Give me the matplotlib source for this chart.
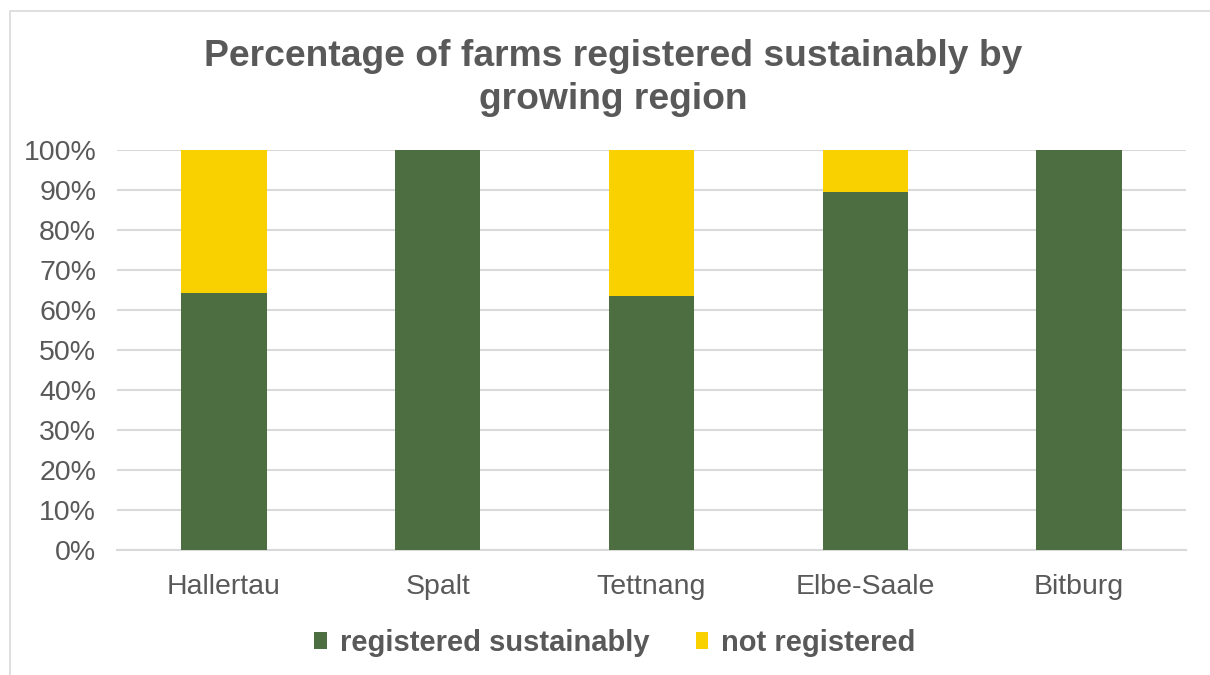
import matplotlib.pyplot as plt
from matplotlib.patches import Rectangle
from matplotlib.ticker import PercentFormatter

plt.rcParams['font.family'] = ['Liberation Sans', 'DejaVu Sans']

regions = ['Hallertau', 'Spalt', 'Tettnang', 'Elbe-Saale', 'Bitburg']
registered = [64.25, 100, 63.5, 89.6, 100]
not_registered = [100 - v for v in registered]

green = '#4D6E41'
yellow = '#F9D000'
grey = '#595959'

fig = plt.figure(figsize=(12.1, 6.75), dpi=100)
fig.patches.append(Rectangle((10 / 1210, -0.1), 1.2, 1 - 11 / 675 + 0.1,
                             transform=fig.transFigure, fill=False,
                             edgecolor='#D9D9D9', lw=1.2))

ax = fig.add_axes([117 / 1210, 1 - 550 / 675, (1186 - 117) / 1210, 400 / 675])
x = range(len(regions))
ax.bar(x, registered, width=0.4, color=green, label='registered sustainably', zorder=3)
ax.bar(x, not_registered, width=0.4, bottom=registered, color=yellow,
       label='not registered', zorder=3)

ax.set_xlim(-0.5, len(regions) - 0.5)
ax.set_ylim(0, 100)
ax.set_yticks(range(0, 101, 10))
ax.yaxis.set_major_formatter(PercentFormatter(decimals=0))
ax.set_xticks(list(x))
ax.set_xticklabels(regions)
ax.grid(axis='y', color='#D9D9D9', lw=1.5, zorder=0)
ax.tick_params(axis='both', length=0, labelsize=20.5, colors=grey)
ax.tick_params(axis='x', pad=17)
ax.tick_params(axis='y', pad=15)
for s in ['top', 'right', 'left']:
    ax.spines[s].set_visible(False)
ax.spines['bottom'].set_color('#D9D9D9')
ax.spines['bottom'].set_linewidth(1.5)

fig.text(613 / 1210, 1 - 78 / 675,
         'Percentage of farms registered sustainably by\ngrowing region',
         ha='center', va='center', fontsize=26.8, fontweight='bold', color=grey,
         linespacing=1.32)

leg = fig.legend(loc='center', bbox_to_anchor=(615 / 1210, 1 - 643 / 675), ncol=2,
                 frameon=False, handlelength=0.42, handleheight=0.5,
                 handletextpad=0.45, columnspacing=1.6,
                 prop={'size': 21, 'weight': 'bold'})
for t in leg.get_texts():
    t.set_color(grey)

fig.savefig('out.png', dpi=100)
